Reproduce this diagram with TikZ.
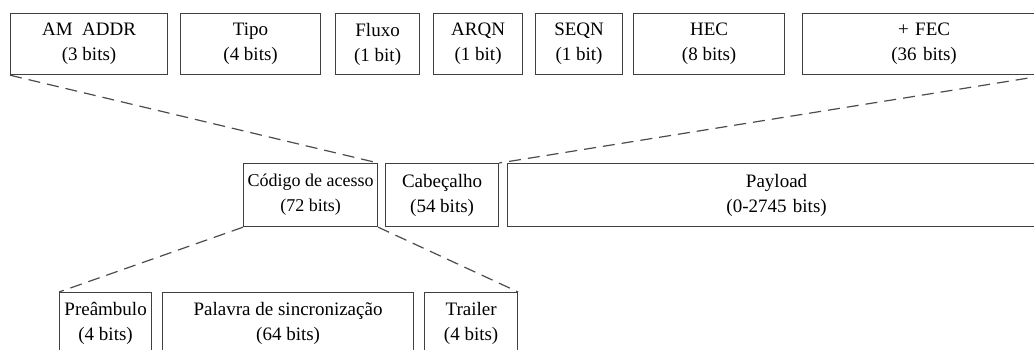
\documentclass[tikz,border=0pt]{standalone}
\usepackage{fontspec}
\setmainfont{Liberation Serif}
\begin{document}
\begin{tikzpicture}[x=1pt, y=-1pt, every node/.style={rectangle, draw=black!75, line width=1.2pt, anchor=north west, inner sep=0pt, align=center, font=\fontsize{19}{25}\selectfont}]
\clip (0,0) rectangle (1034,349);
    \node[minimum width=157, minimum height=61] (v0) at (10,13) {AM\ \ ADDR\\(3 bits)};
    \node[minimum width=140, minimum height=61] (v1) at (180,13) {Tipo\\(4 bits)};
    \node[minimum width=84, minimum height=61] (v2) at (335,13) {Fluxo\\(1 bit)};
    \node[minimum width=89, minimum height=61] (v3) at (433,13) {ARQN\\(1 bit)};
    \node[minimum width=87, minimum height=61] (v4) at (535,13) {SEQN\\(1 bit)};
    \node[minimum width=151, minimum height=61] (v5) at (633,13) {HEC\\(8 bits)};
    \node[minimum width=243, minimum height=61, text width=228] (v6) at (802,13) {+ FEC\\(36 bits)};
    \node[minimum width=134, minimum height=63, font=\fontsize{18}{25}\selectfont] (c0) at (243,163) {Código de acesso\\(72 bits)};
    \node[minimum width=113, minimum height=63] (c1) at (385,163) {Cabeçalho\\(54 bits)};
    \node[minimum width=538, minimum height=63, text width=523] (c2) at (507,163) {Payload\\(0-2745 bits)};
    \node[minimum width=92, minimum height=62] (b0) at (59,292) {Preâmbulo\\(4 bits)};
    \node[minimum width=251, minimum height=62] (b1) at (162,292) {Palavra de sincronização\\(64 bits)};
    \node[minimum width=93, minimum height=62] (b2) at (424,292) {Trailer\\(4 bits)};
    \foreach \from/\to in {v0.south west/c0.north east, v6.south east/c1.north east, c0.south west/b0.north west, c0.south east/b2.north east}
        \draw[black!70, line width=1.2pt, dash pattern=on 12pt off 7pt] (\from) -- (\to);
\end{tikzpicture}
\end{document}
